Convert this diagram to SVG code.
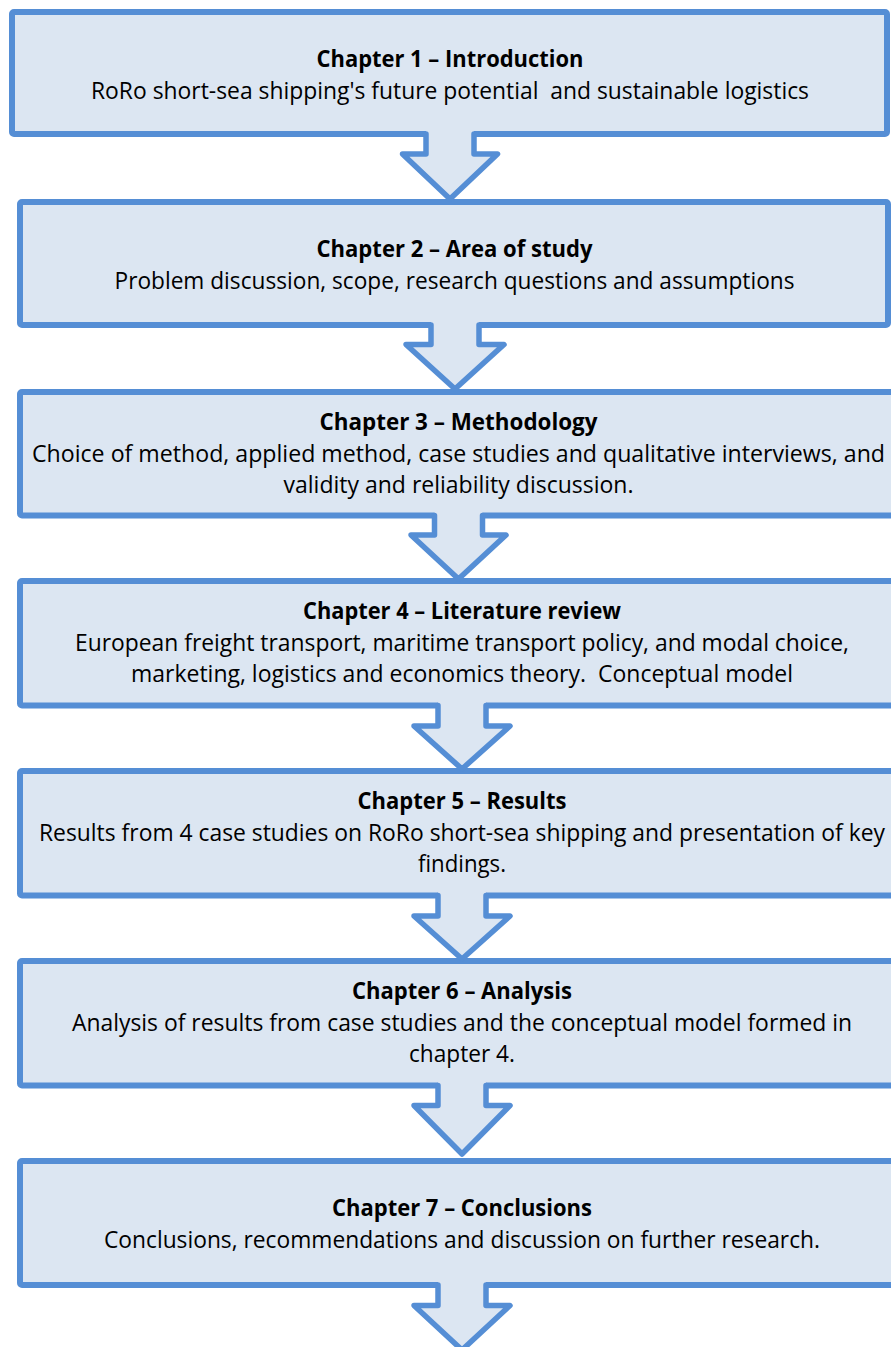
<svg xmlns="http://www.w3.org/2000/svg" width="891" height="1347" viewBox="0 0 891 1347">
  <style>
    .box { fill: #DCE6F2; stroke: #558ED5; stroke-width: 6; }
    .arrow-fill { fill: #DCE6F2; stroke: none; }
    .arrow-line { fill: none; stroke: #558ED5; stroke-width: 5.5; stroke-linejoin: round; stroke-linecap: round; }
    .t { font-family: "Open Sans", "Liberation Sans", sans-serif; font-size: 23px; fill: #000; text-anchor: middle; white-space: pre; }
    .b { font-weight: bold; }
  </style>
  <rect width="891" height="1347" fill="#FFFFFF"/>

  <!-- chapter boxes -->
  <g id="chapter1">
    <rect class="box" x="12" y="12" width="875" height="122" rx="2"/>
    <text class="t b" x="450" y="67" textLength="267" lengthAdjust="spacingAndGlyphs">Chapter 1 – Introduction</text>
    <text class="t" x="450" y="98.5" textLength="718" lengthAdjust="spacingAndGlyphs" xml:space="preserve">RoRo short-sea shipping's future potential  and sustainable logistics</text>
  </g>

  <g id="chapter2">
    <rect class="box" x="20" y="202" width="868" height="123" rx="2"/>
    <text class="t b" x="454.5" y="257" textLength="276" lengthAdjust="spacingAndGlyphs">Chapter 2 – Area of study</text>
    <text class="t" x="454.5" y="288.5" textLength="680" lengthAdjust="spacingAndGlyphs">Problem discussion, scope, research questions and assumptions</text>
  </g>

  <g id="chapter3">
    <rect class="box" x="20" y="392" width="877" height="123.5" rx="2"/>
    <text class="t b" x="458.5" y="430" textLength="278" lengthAdjust="spacingAndGlyphs">Chapter 3 – Methodology</text>
    <text class="t" x="458.5" y="461.5" textLength="853" lengthAdjust="spacingAndGlyphs">Choice of method, applied method, case studies and qualitative interviews, and</text>
    <text class="t" x="458.5" y="493" textLength="350" lengthAdjust="spacingAndGlyphs">validity and reliability discussion.</text>
  </g>

  <g id="chapter4">
    <rect class="box" x="20" y="581" width="884" height="124.5" rx="2"/>
    <text class="t b" x="462" y="619" textLength="318" lengthAdjust="spacingAndGlyphs">Chapter 4 – Literature review</text>
    <text class="t" x="462" y="650.5" textLength="774" lengthAdjust="spacingAndGlyphs">European freight transport, maritime transport policy, and modal choice,</text>
    <text class="t" x="462" y="682" textLength="662" lengthAdjust="spacingAndGlyphs" xml:space="preserve">marketing, logistics and economics theory.  Conceptual model</text>
  </g>

  <g id="chapter5">
    <rect class="box" x="20" y="771" width="884" height="124.5" rx="2"/>
    <text class="t b" x="462" y="809" textLength="209" lengthAdjust="spacingAndGlyphs">Chapter 5 – Results</text>
    <text class="t" x="462" y="840.5" textLength="846" lengthAdjust="spacingAndGlyphs">Results from 4 case studies on RoRo short-sea shipping and presentation of key</text>
    <text class="t" x="462" y="872" textLength="88" lengthAdjust="spacingAndGlyphs">findings.</text>
  </g>

  <g id="chapter6">
    <rect class="box" x="20" y="961" width="884" height="124.5" rx="2"/>
    <text class="t b" x="462" y="999" textLength="220" lengthAdjust="spacingAndGlyphs">Chapter 6 – Analysis</text>
    <text class="t" x="462" y="1030.5" textLength="780" lengthAdjust="spacingAndGlyphs">Analysis of results from case studies and the conceptual model formed in</text>
    <text class="t" x="462" y="1062" textLength="106" lengthAdjust="spacingAndGlyphs">chapter 4.</text>
  </g>

  <g id="chapter7">
    <rect class="box" x="20" y="1161" width="884" height="124" rx="2"/>
    <text class="t b" x="462" y="1216" textLength="260" lengthAdjust="spacingAndGlyphs">Chapter 7 – Conclusions</text>
    <text class="t" x="462" y="1247.5" textLength="716" lengthAdjust="spacingAndGlyphs">Conclusions, recommendations and discussion on further research.</text>
  </g>

  <!-- block arrows between chapters: a fill that covers the box edge, then the open outline -->
  <g id="connectors">
    <path class="arrow-fill" d="M426 130 V154 H402.5 L450 199 L497.5 154 H474 V130 Z"/>
    <path class="arrow-line" d="M426 134 V154 H402.5 L450 199 L497.5 154 H474 V134"/>

    <path class="arrow-fill" d="M431 321 V344.5 H406 L455 389 L504 344.5 H479 V321 Z"/>
    <path class="arrow-line" d="M431 325 V344.5 H406 L455 389 L504 344.5 H479 V325"/>

    <path class="arrow-fill" d="M434.5 511.5 V535 H411 L458.5 579 L506 535 H482.5 V511.5 Z"/>
    <path class="arrow-line" d="M434.5 515.5 V535 H411 L458.5 579 L506 535 H482.5 V515.5"/>

    <path class="arrow-fill" d="M438 701.5 V726 H414 L462 769 L510 726 H486 V701.5 Z"/>
    <path class="arrow-line" d="M438 705.5 V726 H414 L462 769 L510 726 H486 V705.5"/>

    <path class="arrow-fill" d="M438 891.5 V916 H414 L462 959 L510 916 H486 V891.5 Z"/>
    <path class="arrow-line" d="M438 895.5 V916 H414 L462 959 L510 916 H486 V895.5"/>

    <path class="arrow-fill" d="M438 1081.5 V1105.5 H414 L462 1154 L510 1105.5 H486 V1081.5 Z"/>
    <path class="arrow-line" d="M438 1085.5 V1105.5 H414 L462 1154 L510 1105.5 H486 V1085.5"/>

    <path class="arrow-fill" d="M438 1281 V1305.5 H414 L462 1350 L510 1305.5 H486 V1281 Z"/>
    <path class="arrow-line" d="M438 1285 V1305.5 H414 L462 1350 L510 1305.5 H486 V1285"/>
  </g>
</svg>
